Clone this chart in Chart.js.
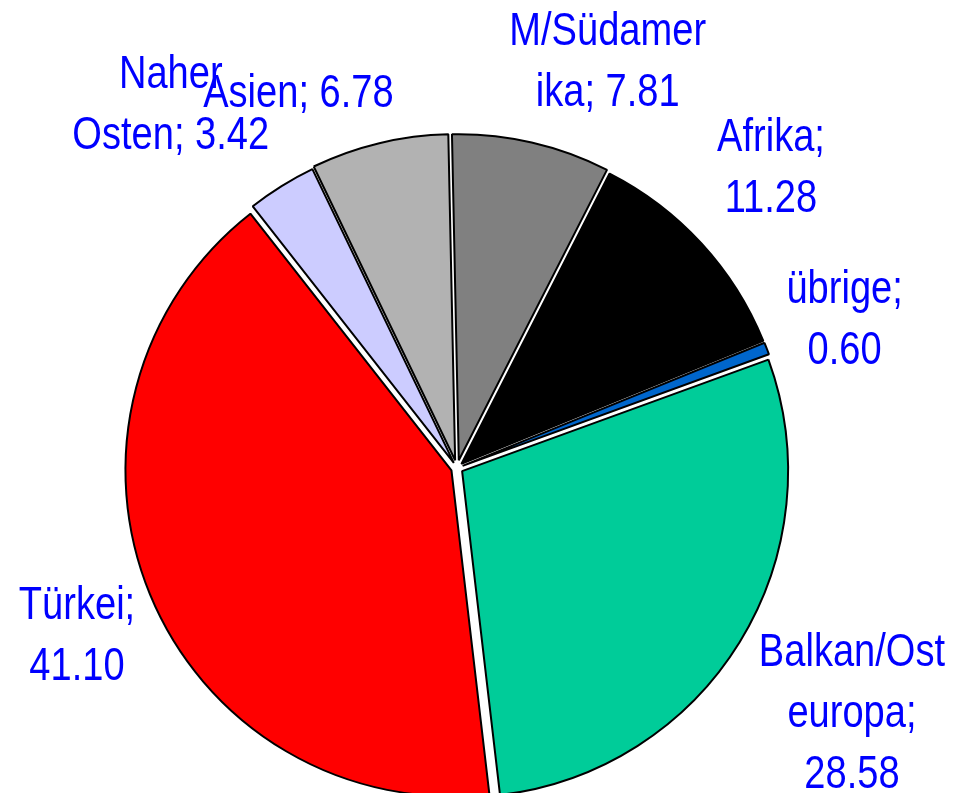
<!DOCTYPE html>
<html>
<head>
<meta charset="utf-8">
<script src="https://cdn.jsdelivr.net/npm/chart.js"></script>
<style>
  html, body { margin: 0; padding: 0; background: #fff; overflow: hidden; }
  #chart { display: block; }
</style>
</head>
<body>
<canvas id="chart" width="963" height="936"></canvas>
<script>
// data, clockwise from the top
const regions = ["M/Südamerika", "Afrika", "übrige", "Balkan/Osteuropa", "Türkei", "Naher Osten", "Asien"];
const shares = [7.81, 11.28, 0.60, 28.58, 41.10, 3.42, 6.78];
// label text as wrapped in the picture
const labelLines = [
    ["M/Südamer", "ika; 7.81"],
    ["Afrika;", "11.28"],
    ["übrige;", "0.60"],
    ["Balkan/Ost", "europa;", "28.58"],
    ["Türkei;", "41.10"],
    ["Naher", "Osten; 3.42"],
    ["Asien; 6.78"]
];
const sliceColors = ["#808080", "#000000", "#0066cc", "#00cc99", "#ff0000", "#ccccff", "#b2b2b2"];

// label placement: distance from pie centre and turn from slice middle (deg)
const labelDist = [436, 437, 416, 463, 414, 465, 410];
const labelTurn = [7.3, -1.5, -0.2, -0.2, -1.0, -6.1, -9.3];
// how far each slice is pulled out (px)
const explode = [8, 6, 6, 6, 6, 6, 8];

const explodePlugin = {
    id: "explode",
    beforeDatasetsDraw(chart) {
        const a = chart.chartArea;
        const cx = (a.left + a.right) / 2;
        const cy = (a.top + a.bottom) / 2;
        chart.getDatasetMeta(0).data.forEach((arc, i) => {
            const mid = (arc.startAngle + arc.endAngle) / 2;
            arc.x = cx + Math.cos(mid) * explode[i];
            arc.y = cy + Math.sin(mid) * explode[i];
        });
    }
};

const labelPlugin = {
    id: "sliceLabels",
    afterDatasetsDraw(chart) {
        const ctx = chart.ctx;
        const a = chart.chartArea;
        const cx = (a.left + a.right) / 2;
        const cy = (a.top + a.bottom) / 2;
        const lineH = 61;
        ctx.save();
        ctx.fillStyle = "#0000ff";
        ctx.font = '47px "Liberation Sans", Arial, sans-serif';
        ctx.textAlign = "center";
        ctx.textBaseline = "alphabetic";
        chart.getDatasetMeta(0).data.forEach((arc, i) => {
            const mid = (arc.startAngle + arc.endAngle) / 2 + labelTurn[i] * Math.PI / 180;
            const x = cx + Math.cos(mid) * labelDist[i];
            const y = cy + Math.sin(mid) * labelDist[i];
            const lines = labelLines[i];
            const first = y - (lines.length - 1) * lineH / 2 + 17;
            lines.forEach((t, k) => {
                ctx.save();
                ctx.translate(x, first + k * lineH);
                ctx.scale(0.81, 1);
                ctx.fillText(t, 0, 0);
                ctx.restore();
            });
        });
        ctx.restore();
    }
};

new Chart(document.getElementById("chart"), {
    type: "pie",
    data: {
        labels: regions,
        datasets: [{
            data: shares,
            backgroundColor: sliceColors,
            borderColor: "#000000",
            borderWidth: 2
        }]
    },
    options: {
        responsive: false,
        animation: false,
        events: [],
        rotation: -1.2,
        radius: 326,
        layout: { padding: { left: 0, right: 49, top: 0, bottom: 0 } },
        plugins: {
            legend: { display: false },
            tooltip: { enabled: false }
        }
    },
    plugins: [explodePlugin, labelPlugin]
});
</script>
</body>
</html>
